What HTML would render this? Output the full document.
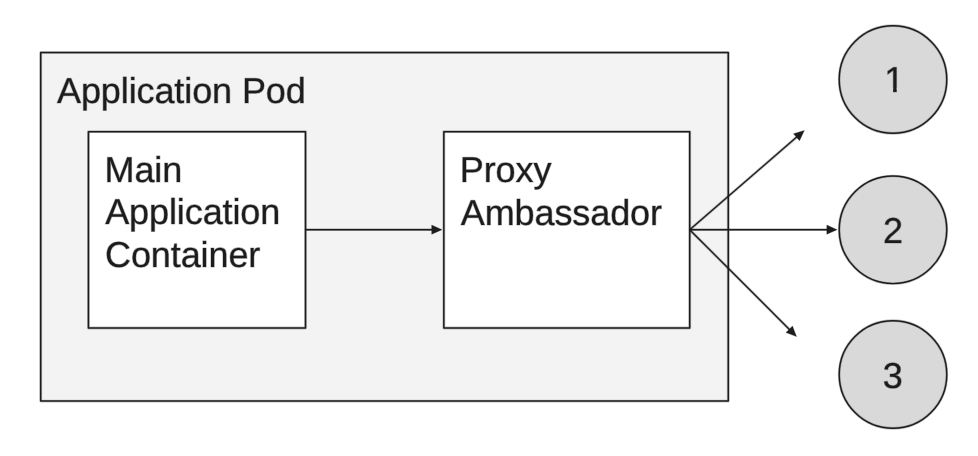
<!DOCTYPE html>
<html>
<head>
<meta charset="utf-8">
<title>Ambassador pattern</title>
<style>
html,body{margin:0;padding:0;background:#fff;overflow:hidden;}
svg{display:block;will-change:transform;}
text{text-rendering:geometricPrecision;font-family:"Liberation Sans",Arial,sans-serif;font-size:36px;fill:#1c1c1c;stroke:rgba(28,28,28,0.32);stroke-width:1.2px;stroke-linejoin:round;paint-order:stroke fill;letter-spacing:-0.1px;}
</style>
</head>
<body>
<svg width="978" height="456" viewBox="0 0 978 456">
<defs>
<clipPath id="one" clipPathUnits="userSpaceOnUse"><path d="M878 58H908V88H896.7V95H893.1V88H878Z"/></clipPath>
</defs>
<rect x="0" y="0" width="978" height="456" fill="#ffffff"/>
<g>
<rect x="40.7" y="52.6" width="687.60" height="348.50" fill="#f3f3f3" stroke="#1c1c1c" stroke-opacity="0.28" stroke-width="2.9" stroke-linejoin="round"/><rect x="40.7" y="52.6" width="687.60" height="348.50" fill="none" stroke="#1c1c1c" stroke-width="1.5" stroke-linejoin="round"/>
<text x="57" y="102.8">Application Pod</text>
</g>
<g>
<rect x="88.45" y="131.65" width="217.05" height="196.35" fill="#ffffff" stroke="#1c1c1c" stroke-opacity="0.28" stroke-width="2.9" stroke-linejoin="round"/><rect x="88.45" y="131.65" width="217.05" height="196.35" fill="none" stroke="#1c1c1c" stroke-width="1.5" stroke-linejoin="round"/>
<text x="104.5" y="182.3">Main</text>
<text x="105.2" y="224.4">Application</text>
<text x="105" y="267.2">Container</text>
</g>
<g>
<rect x="443.85" y="131.65" width="245.85" height="196.35" fill="#ffffff" stroke="#1c1c1c" stroke-opacity="0.28" stroke-width="2.9" stroke-linejoin="round"/><rect x="443.85" y="131.65" width="245.85" height="196.35" fill="none" stroke="#1c1c1c" stroke-width="1.5" stroke-linejoin="round"/>
<text x="459.8" y="182.4">Proxy</text>
<text x="460.8" y="224.7">Ambassador</text>
</g>
<g>
<line x1="305.50" y1="229.70" x2="432.70" y2="229.70" stroke="#1c1c1c" stroke-opacity="0.28" stroke-width="2.8"/><line x1="305.50" y1="229.70" x2="432.70" y2="229.70" stroke="#1c1c1c" stroke-width="1.4"/><polygon points="442.00,229.70 431.70,234.30 431.70,225.10" fill="#1c1c1c" stroke="#1c1c1c" stroke-opacity="0.28" stroke-width="1" stroke-linejoin="round" paint-order="stroke"/>
<line x1="689.70" y1="229.70" x2="827.80" y2="229.70" stroke="#1c1c1c" stroke-opacity="0.28" stroke-width="2.8"/><line x1="689.70" y1="229.70" x2="827.80" y2="229.70" stroke="#1c1c1c" stroke-width="1.4"/><polygon points="837.10,229.70 826.80,234.30 826.80,225.10" fill="#1c1c1c" stroke="#1c1c1c" stroke-opacity="0.28" stroke-width="1" stroke-linejoin="round" paint-order="stroke"/>
<line x1="689.70" y1="229.70" x2="797.27" y2="136.59" stroke="#1c1c1c" stroke-opacity="0.28" stroke-width="2.8"/><line x1="689.70" y1="229.70" x2="797.27" y2="136.59" stroke="#1c1c1c" stroke-width="1.4"/><polygon points="804.30,130.50 799.52,140.72 793.50,133.76" fill="#1c1c1c" stroke="#1c1c1c" stroke-opacity="0.28" stroke-width="1" stroke-linejoin="round" paint-order="stroke"/>
<line x1="689.70" y1="229.70" x2="789.93" y2="330.02" stroke="#1c1c1c" stroke-opacity="0.28" stroke-width="2.8"/><line x1="689.70" y1="229.70" x2="789.93" y2="330.02" stroke="#1c1c1c" stroke-width="1.4"/><polygon points="796.50,336.60 785.97,332.56 792.47,326.06" fill="#1c1c1c" stroke="#1c1c1c" stroke-opacity="0.28" stroke-width="1" stroke-linejoin="round" paint-order="stroke"/>
</g>
<g fill="#d9d9d9" stroke="#1c1c1c" stroke-opacity="0.28" stroke-width="2.7">
<circle cx="893" cy="79.5" r="53.8"/>
<circle cx="893" cy="229.8" r="53.8"/>
<circle cx="893" cy="374.5" r="53.8"/>
</g>
<g fill="none" stroke="#1c1c1c" stroke-width="1.45">
<circle cx="893" cy="79.5" r="53.8"/>
<circle cx="893" cy="229.8" r="53.8"/>
<circle cx="893" cy="374.5" r="53.8"/>
</g>
<g text-anchor="middle">
<text x="894.2" y="92" clip-path="url(#one)">1</text>
<text x="893" y="243">2</text>
<text x="892.7" y="387.7">3</text>
</g>
</svg>
</body>
</html>
